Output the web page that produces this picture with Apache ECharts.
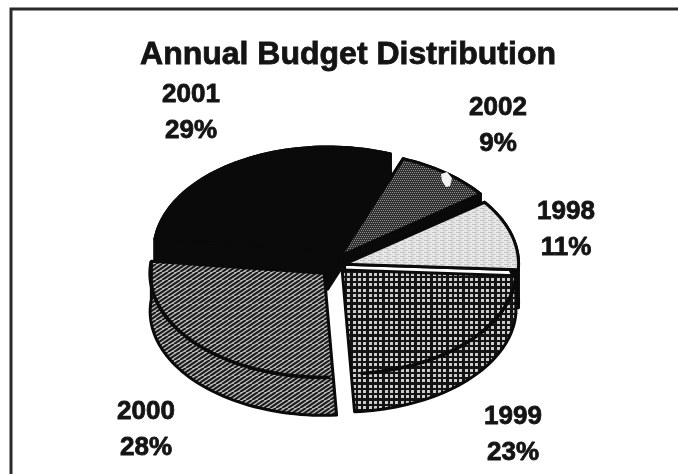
<!DOCTYPE html>
<html>
<head>
<meta charset="utf-8">
<style>html,body{margin:0;padding:0;background:#fff}#chart{width:678px;height:474px}</style>
<script src="https://cdn.jsdelivr.net/npm/echarts@6/dist/echarts.min.js"></script>
</head>
<body>
<div id="chart"></div>
<script>
// Budget shares by year, in drawing order around the pie (clockwise from the left).
const years = ['2001', '2002', '1998', '1999', '2000'];
const shares = [29, 9, 11, 23, 28];
// How far each wedge is pulled out of the pie, in pixels.
const explode = [14, 9, 10, 10, 15];
// Extra downward settle of a wedge, in pixels.
const settle = [0, 0, 4, 0, 0];
// How far the inner corner of a wedge's cut face drops below its apex.
const innerDrop = [38, 6, 8, 0, 0];
// Where each year's label is centred.
const labelCentres = [[191, 113], [498, 126], [566, 230], [513, 435], [146, 430]];

// Ellipse of the tilted pie and the height of its rim.
const pie = { cx: 335, cy: 263, rx: 174, ry: 104, depth: 38, startDeg: 173.3 };

function tile(w, h, draw) {
  const c = document.createElement('canvas');
  c.width = w; c.height = h;
  draw(c.getContext('2d'), w, h);
  return { image: c, repeat: 'repeat' };
}

// Shaded fills for the wedges.
const stripes = tile(12, 8, (g, w, h) => {
  g.fillStyle = '#bdbdbd'; g.fillRect(0, 0, w, h);
  g.strokeStyle = '#1a1a1a'; g.lineWidth = 2.1;
  for (let k = -3; k <= 3; k++) {
    g.beginPath();
    g.moveTo(k * 6, h);
    g.lineTo(k * 6 + w, 0);
    g.stroke();
  }
});
const windows = tile(16, 16, (g, w, h) => {
  g.fillStyle = '#141414'; g.fillRect(0, 0, w, h);
  g.fillStyle = '#cccccc';
  [1, 6, 11].forEach(x => [1, 6, 11].forEach(y => g.fillRect(x, y, 3, 3)));
});
const mesh = tile(4, 4, (g, w, h) => {
  g.fillStyle = '#303030'; g.fillRect(0, 0, w, h);
  g.fillStyle = '#8c8c8c';
  g.fillRect(0, 0, 1, 1); g.fillRect(2, 0, 1, 1);
  g.fillRect(1, 2, 1, 1); g.fillRect(3, 2, 1, 1);
});
const speckle = tile(8, 4, (g, w, h) => {
  g.fillStyle = '#e6e6e6'; g.fillRect(0, 0, w, h);
  g.fillStyle = '#c2c2c2';
  g.fillRect(0, 0, 5, 1);
  g.fillRect(3, 2, 4, 1);
});

const topFill = ['#0a0a0a', mesh, speckle, windows, stripes];
const rimFill = ['#0a0a0a', '#0a0a0a', '#0a0a0a', windows, stripes];
const cutFill = ['#0a0a0a', '#0a0a0a', '#ffffff', null, null];
// Front wedges: which end of the arc the straight cut edge runs down from.
const frontCutEnd = [null, null, null, 'last', 'first'];

const total = shares.reduce((a, b) => a + b, 0);

function sliceAngles(i) {
  let before = 0;
  for (let k = 0; k < i; k++) before += shares[k];
  const from = pie.startDeg - before / total * 360;
  return [from, from - shares[i] / total * 360];
}

function renderSlice(params, api) {
  const i = params.dataIndex;
  const [from, to] = sliceAngles(i);
  const mid = (from + to) / 2 * Math.PI / 180;
  const ox = pie.cx + explode[i] * Math.cos(mid);
  const oy = pie.cy - explode[i] * Math.sin(mid) + settle[i];
  const at = (deg, drop) => [
    ox + pie.rx * Math.cos(deg * Math.PI / 180),
    oy - pie.ry * Math.sin(deg * Math.PI / 180) + drop
  ];
  const arc = [];
  const steps = Math.max(8, Math.ceil(Math.abs(from - to) / 2));
  for (let s = 0; s <= steps; s++) arc.push(from + (to - from) * s / steps);

  const line = { stroke: '#0a0a0a', lineWidth: 3, lineJoin: 'round' };
  const poly = (points, fill) => ({
    type: 'polygon',
    shape: { points },
    style: Object.assign({ fill }, line)
  });
  const trace = points => ({
    type: 'polyline',
    shape: { points },
    style: Object.assign({ fill: 'none' }, line, { lineWidth: 3.6 })
  });

  const apexTop = [ox, oy];
  const apexLow = [ox, oy + innerDrop[i]];
  const topArc = arc.map(d => at(d, 0));
  const lowArc = arc.map(d => at(d, pie.depth));
  const lowBack = lowArc.slice().reverse();

  let body;
  if (frontCutEnd[i] === 'last') {
    // Outline runs: apex, far corner, down the rim, then straight back to the apex.
    body = [
      poly([apexTop, topArc[0]].concat(lowArc), topFill[i]),
      trace(topArc.slice(0, steps))
    ];
  } else if (frontCutEnd[i] === 'first') {
    body = [
      poly([apexTop].concat(lowArc, [topArc[steps]]), topFill[i]),
      trace(topArc.slice(1))
    ];
  } else {
    // Cut faces first, then the outer rim, then the top of the wedge.
    body = [
      poly([apexTop, topArc[0], lowArc[0], apexLow], cutFill[i]),
      poly([apexTop, topArc[steps], lowArc[steps], apexLow], cutFill[i]),
      poly(topArc.concat(lowBack), rimFill[i]),
      poly([apexTop].concat(topArc), topFill[i])
    ];
  }

  const label = {
    type: 'text',
    z2: 10,
    style: {
      text: api.value(1) + '\n' + api.value(0) + '%',
      x: labelCentres[i][0],
      y: labelCentres[i][1],
      align: 'center',
      verticalAlign: 'middle',
      font: 'bold 26px "Liberation Sans", Arial, sans-serif',
      lineHeight: 36,
      fill: '#141414',
      stroke: '#141414',
      lineWidth: 0.8
    }
  };
  return { type: 'group', children: body.concat(label) };
}

const chart = echarts.init(document.getElementById('chart'), null, { renderer: 'canvas' });
chart.setOption({
  animation: false,
  backgroundColor: '#ffffff',
  title: {
    text: 'Annual Budget Distribution',
    left: 343,
    top: 34,
    textAlign: 'center',
    textStyle: {
      fontFamily: '"Liberation Sans", Arial, sans-serif',
      fontWeight: 'bold',
      fontSize: 32,
      color: '#141414',
      textBorderColor: '#141414',
      textBorderWidth: 0.8
    }
  },
  graphic: [
    {
      // Page rule along the top and left edges.
      type: 'polyline',
      shape: { points: [[11, 474], [11, 9], [678, 9]] },
      style: { fill: 'none', stroke: '#2a2a2a', lineWidth: 3 }
    },
    {
      // Small pale nick in the 2002 wedge.
      type: 'polygon',
      z: 20,
      shape: { points: [[441, 174], [447, 172], [452, 178], [450, 186], [446, 187], [442, 181]] },
      style: { fill: '#f4f4f4' }
    }
  ],
  series: [{
    type: 'custom',
    coordinateSystem: 'none',
    clip: false,
    renderItem: renderSlice,
    data: shares.map((v, i) => [v, years[i]])
  }]
});
</script>
</body>
</html>
